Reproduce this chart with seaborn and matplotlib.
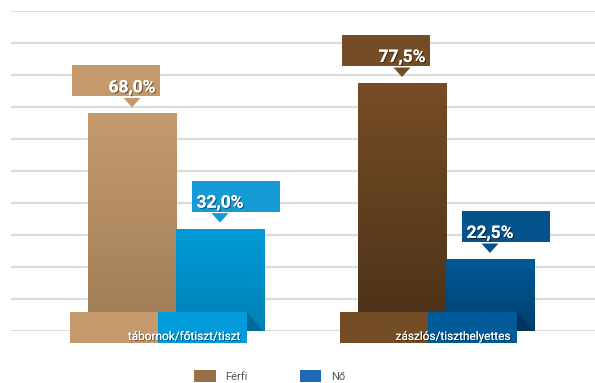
import matplotlib
matplotlib.use('Agg')
import matplotlib.pyplot as plt
import matplotlib.patheffects as pe
from matplotlib.patches import Rectangle, Polygon, Patch
from matplotlib.colors import to_rgb
import numpy as np
import pandas as pd
import seaborn as sns

sns.set_theme(style='white')
plt.rcParams['font.family'] = ['Roboto', 'DejaVu Sans']

# data
kategoriak = ['tábornok/főtiszt/tiszt', 'zászlós/tiszthelyettes']
nemek = ['Férfi', 'Nő']
ferfi = [68.0, 77.5]
no = [32.0, 22.5]

# colours per (category, gender): bar top, bar bottom, value box, label box, fold
bar_top = {(0, 0): '#C59B6D', (0, 1): '#009BD8', (1, 0): '#764D25', (1, 1): '#005A98'}
bar_bot = {(0, 0): '#9F7C56', (0, 1): '#0080B5', (1, 0): '#4A3119', (1, 1): '#003E6C'}
box_col = {(0, 0): '#C49A6C', (0, 1): '#169BD7', (1, 0): '#744C26', (1, 1): '#06528D'}
lab_col = {(0, 0): '#C49A6C', (0, 1): '#009BD8', (1, 0): '#744C26', (1, 1): '#005A98'}
fold_col = {0: '#00699A', 1: '#00345E'}
legend_col = ['#9B7046', '#1F68B5']

df = pd.DataFrame({'kat': kategoriak * 2,
                   'nem': [nemek[0]] * 2 + [nemek[1]] * 2,
                   'ertek': ferfi + no})

fig = plt.figure(figsize=(5.95, 3.83), dpi=100)
ax = fig.add_axes([11 / 595, 52 / 383, 584 / 595, 320 / 383])
sns.barplot(data=df, x='kat', y='ertek', hue='nem', order=kategoriak, hue_order=nemek,
            width=0.652, palette=[box_col[(0, 0)], box_col[(0, 1)]], saturation=1,
            errorbar=None, legend=False, ax=ax, zorder=3)

xlim = (-0.6111, 1.5519)
ax.set_xlim(*xlim)
ax.set_ylim(0, 100)
PX = 584 / (xlim[1] - xlim[0])   # pixels per x unit
PY = 320 / 100                    # pixels per y unit

shadow = [pe.withSimplePatchShadow(offset=(0.8, -0.8), shadow_rgbFace='black', alpha=0.45), pe.Normal()]

for p in list(ax.patches):
    x0, w, h = p.get_x(), p.get_width(), p.get_height()
    xc = x0 + w / 2
    ci = int(round(xc))
    hi = 0 if xc < ci else 1
    key = (ci, hi)

    # vertical gradient on the bar
    t = np.linspace(0, 1, 256)[:, None]
    c1, c2 = np.array(to_rgb(bar_top[key])), np.array(to_rgb(bar_bot[key]))
    img = (c1[None, None, :] * (1 - t[..., None]) + c2[None, None, :] * t[..., None])
    im = ax.imshow(img, extent=[x0, x0 + w, 0, h], aspect='auto', origin='upper', zorder=3.5)
    im.set_clip_path(p)

    # value callout box with pointer
    sign = -1 if hi == 0 else 1
    bxc = xc + sign * 16 / PX
    ax.add_patch(Rectangle((bxc - 44 / PX, h + 17 / PY), 88 / PX, 31 / PY,
                           facecolor=box_col[key], edgecolor='none', zorder=4))
    ax.add_patch(Polygon([(xc - 8.5 / PX, h + 15.5 / PY), (xc + 8.5 / PX, h + 15.5 / PY),
                          (xc, h + 6 / PY)], closed=True, facecolor=box_col[key],
                         edgecolor='none', zorder=4))
    lab = f'{h:.1f}%'.replace('.', ',')
    ax.text(xc, h + 21 / PY, lab, ha='center', va='baseline', fontsize=12.5,
            fontweight='bold', color='white', zorder=6, path_effects=shadow)

    # category label box at the bottom
    lx = x0 - 17.5 / PX
    ax.add_patch(Rectangle((lx, -12 / PY), w, 31 / PY, facecolor=lab_col[key],
                           edgecolor='none', zorder=5, clip_on=False))
    if hi == 1:
        ax.add_patch(Polygon([(lx + w, 19 / PY), (lx + w, 0), (x0 + w - 1 / PX, 0)],
                             closed=True, facecolor=fold_col[ci], edgecolor='none', zorder=5))

for ci, kat in enumerate(kategoriak):
    ax.text(ci + 63 / PX, -9 / PY, kat, ha='right', va='baseline', fontsize=8.5,
            color='white', zorder=6, clip_on=False, path_effects=shadow)

ax.set_yticks(range(0, 101, 10))
ax.yaxis.grid(True, color='#DCDCDC', linewidth=1.5)
ax.set_axisbelow(True)
ax.tick_params(left=False, labelleft=False, bottom=False, labelbottom=False)
ax.set_xlabel('')
ax.set_ylabel('')
for s in ax.spines.values():
    s.set_visible(False)

handles = [Patch(facecolor=legend_col[i], edgecolor='none', label=nemek[i]) for i in range(2)]
fig.legend(handles=handles, loc='center', bbox_to_anchor=(270 / 595, 7 / 383), ncol=2,
           frameon=False, fontsize=8, handlelength=1.9, handleheight=1.3,
           handletextpad=0.9, columnspacing=4.7, labelcolor='#555555')

fig.savefig('out.png', dpi=100)
